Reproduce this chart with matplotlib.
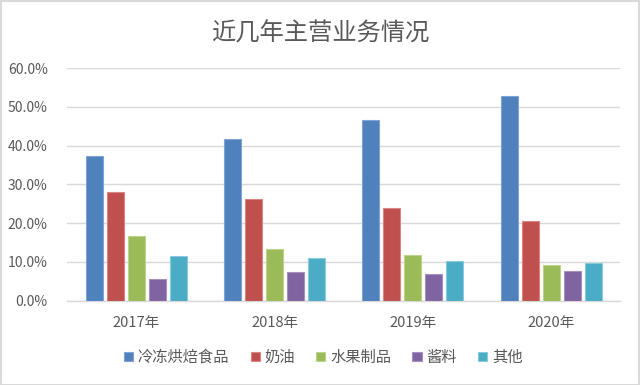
import numpy as np
import matplotlib
matplotlib.use('Agg')
import matplotlib.pyplot as plt
from matplotlib.patches import Rectangle

plt.rcParams['font.family'] = ['Noto Sans CJK SC', 'DejaVu Sans']

years = ['2017年', '2018年', '2019年', '2020年']
series_names = ['冷冻烘焙食品', '奶油', '水果制品', '酱料', '其他']
frozen = [37.4, 41.8, 46.6, 52.8]
cream = [28.0, 26.2, 24.0, 20.5]
fruit = [16.7, 13.3, 11.9, 9.2]
sauce = [5.5, 7.3, 6.8, 7.6]
other = [11.6, 11.0, 10.2, 9.7]
colors = ['#4F81BD', '#C0504D', '#9BBB59', '#8064A2', '#4BACC6']
edges = ['#7FA3D3', '#D98583', '#BDD48C', '#A690C0', '#86CADB']

text_color = '#595959'

fig = plt.figure(figsize=(6.4, 3.85), dpi=100)
ax = fig.add_axes([0.105, 0.219, 0.864, 0.604])

x = np.arange(len(years))
step = 0.152
width = 0.123
for i, vals in enumerate([frozen, cream, fruit, sauce, other]):
    ax.bar(x + (i - 2) * step, vals, width, color=colors[i], edgecolor=edges[i],
           linewidth=0.8, label=series_names[i], zorder=3)

ax.set_xlim(-0.5, 3.5)
ax.set_ylim(0, 60)
ax.set_yticks(np.arange(0, 61, 10))
ax.set_yticklabels(['%.1f%%' % v for v in np.arange(0, 61, 10)])
ax.set_xticks(x)
ax.set_xticklabels(years)
ax.tick_params(length=0, colors=text_color, labelsize=10)
ax.tick_params(axis='x', pad=11, labelsize=10.5)
ax.tick_params(axis='y', pad=14)
ax.grid(axis='y', color='#D9D9D9', linewidth=1, zorder=0)
for s in ['top', 'right', 'left']:
    ax.spines[s].set_visible(False)
ax.spines['bottom'].set_color('#D9D9D9')
ax.spines['bottom'].set_linewidth(1)

fig.text(0.5, 0.912, '近几年主营业务情况', ha='center', va='center',
         fontsize=17.5, color=text_color)

ax.legend(loc='center', bbox_to_anchor=(0.505, 0.072), bbox_transform=fig.transFigure,
          ncol=5, frameon=False, fontsize=11, labelcolor=text_color,
          handlelength=0.6, handleheight=0.6, handletextpad=0.3, columnspacing=1.4)

fig.patches.append(Rectangle((0.001, 0.001), 0.997, 0.996, transform=fig.transFigure,
                             fill=False, edgecolor='#D9D9D9', linewidth=1.5))

fig.savefig('out.png', dpi=100, facecolor='white')
